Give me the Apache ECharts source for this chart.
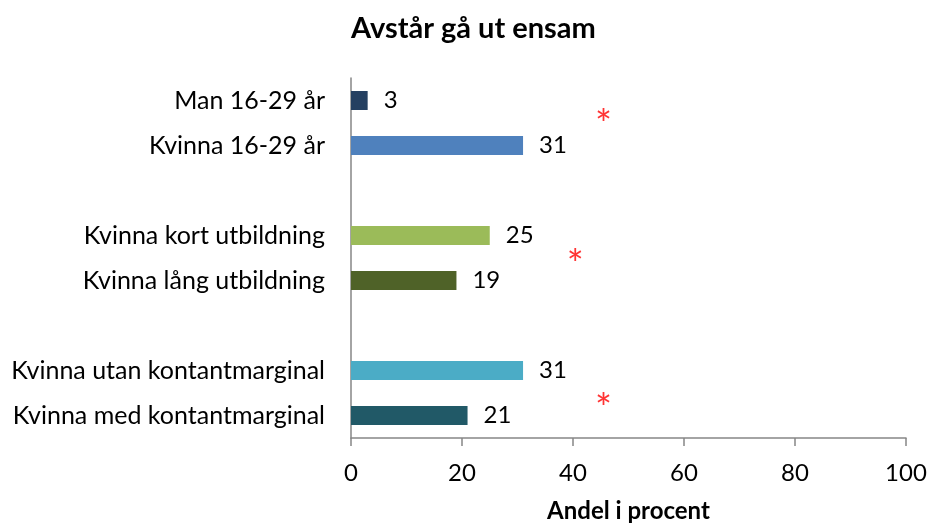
<!DOCTYPE html>
<html>
<head>
<meta charset="utf-8">
<script src="https://cdn.jsdelivr.net/npm/echarts@6/dist/echarts.min.js"></script>
<style>
  html, body { margin: 0; padding: 0; background: #fff; }
  #chart { width: 928px; height: 524px; }
</style>
</head>
<body>
<div id="chart"></div>
<script>
const categories = [
  'Man 16-29 år',
  'Kvinna 16-29 år',
  '',
  'Kvinna kort utbildning',
  'Kvinna lång utbildning',
  ' ',
  'Kvinna utan kontantmarginal',
  'Kvinna med kontantmarginal'
];
const values = [3, 31, '-', 25, 19, '-', 31, 21];
const barColors = ['#254061', '#4F81BD', null, '#9BBB59', '#4F6228', null, '#4BACC6', '#215967'];
const xTicks = [0, 20, 40, 60, 80, 100];

// significance markers: x in percent, y in category slots
const starX = [45.5, 40.4, 45.5];
const starY = [1.07, 4.17, 7.38];

const font = 'Lato, "Open Sans", sans-serif';

const chart = echarts.init(document.getElementById('chart'));

const option = {
  animation: false,
  title: {
    text: 'Avstår gå ut ensam',
    left: 346,
    top: 9,
    textStyle: { fontFamily: font, fontSize: 29, fontWeight: 'bold', color: '#000' }
  },
  grid: { left: 351, right: 22, top: 78, bottom: 86, outerBoundsMode: 'none' },
  xAxis: {
    type: 'value',
    min: xTicks[0],
    max: xTicks[xTicks.length - 1],
    interval: 20,
    name: 'Andel i procent',
    nameLocation: 'middle',
    nameGap: 61,
    nameTextStyle: { fontFamily: font, fontSize: 24, fontWeight: 'bold', color: '#000' },
    axisLine: { show: true, onZero: false, lineStyle: { color: '#868686', width: 1.5 } },
    axisTick: { show: true, length: 8, lineStyle: { color: '#868686', width: 1.5 } },
    axisLabel: { fontFamily: font, fontSize: 24, color: '#000', margin: 23 },
    splitLine: { show: false }
  },
  yAxis: [
    {
      type: 'category',
      data: categories,
      inverse: true,
      axisLine: { show: true, lineStyle: { color: '#868686', width: 1.5 } },
      axisTick: { show: false },
      axisLabel: { fontFamily: font, fontSize: 25, color: '#000', margin: 26 }
    },
    {
      type: 'value',
      min: 0,
      max: 8,
      inverse: true,
      show: false
    }
  ],
  series: [
    {
      type: 'bar',
      barWidth: 19,
      data: values.map((v, i) => ({
        value: v,
        itemStyle: { color: barColors[i] || 'transparent' }
      })),
      label: {
        show: true,
        position: 'right',
        distance: 16,
        fontFamily: font,
        fontSize: 24,
        color: '#000'
      }
    },
    {
      type: 'scatter',
      yAxisIndex: 1,
      symbolSize: 0,
      data: starX.map((x, i) => [x, starY[i]]),
      label: {
        show: true,
        position: 'inside',
        formatter: '*',
        fontFamily: font,
        fontSize: 40,
        color: '#FF0000'
      }
    }
  ]
};

chart.setOption(option);
</script>
</body>
</html>
